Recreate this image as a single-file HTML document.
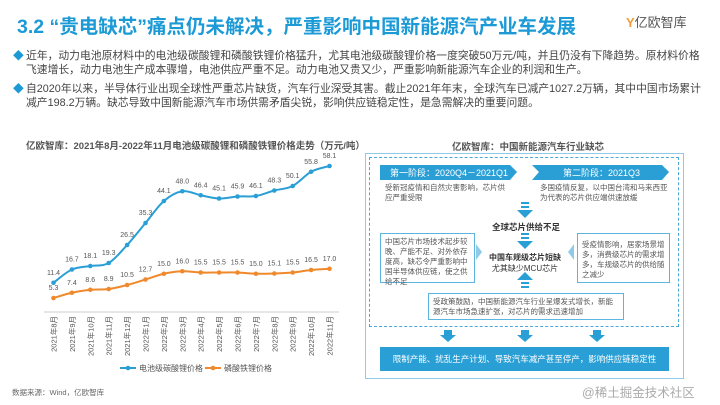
<!DOCTYPE html>
<html><head><meta charset="utf-8">
<style>
*{margin:0;padding:0;box-sizing:border-box}
body{width:720px;height:405px;overflow:hidden;background:#fff;font-family:"Liberation Sans","Noto Sans CJK SC",sans-serif;color:#444;position:relative}
.abs{position:absolute}
.bul{position:absolute;left:26px;width:677px;font-size:10.8px;line-height:13.5px;color:#444}
.bul span{position:absolute;left:-13px;top:0;color:#1b9ad6}
.box{position:absolute;border:1px solid #5bb5e0;background:#fff;color:#555;padding:3px 4px;font-size:7.5px;line-height:10px}
</style></head><body>
<div class="abs" style="left:17px;top:10px;font-size:19.5px;font-weight:bold;color:#1b9ad6;white-space:nowrap">3.2 “贵电缺芯”痛点仍未解决，严重影响中国新能源汽产业车发展</div>
<div class="abs" style="left:626px;top:12px;font-size:13px;color:#555;white-space:nowrap"><span style="color:#f39c33;font-weight:bold">Y</span>亿欧智库</div>
<div class="bul" style="top:50px"><span>◆</span>近年，动力电池原材料中的电池级碳酸锂和磷酸铁锂价格猛升，尤其电池级碳酸锂价格一度突破50万元/吨，并且仍没有下降趋势。原材料价格飞速增长，动力电池生产成本骤增，电池供应严重不足。动力电池又贵又少，严重影响新能源汽车企业的利润和生产。</div>
<div class="bul" style="top:83px"><span>◆</span>自2020年以来，半导体行业出现全球性严重芯片缺货，汽车行业深受其害。截止2021年年末，全球汽车已减产1027.2万辆，其中中国市场累计减产198.2万辆。缺芯导致中国新能源汽车市场供需矛盾尖锐，影响供应链稳定性，是急需解决的重要问题。</div>

<div class="abs" style="left:26px;top:138px;font-size:9.5px;font-weight:bold;color:#555;white-space:nowrap">亿欧智库：2021年8月-2022年11月电池级碳酸锂和磷酸铁锂价格走势（万元/吨）</div>
<svg class="abs" style="left:0;top:0" width="360" height="405" id="chart"></svg>
<div class="abs" style="left:12px;top:387px;font-size:7.5px;color:#666">数据来源：Wind，亿欧智库</div>

<div class="abs" style="left:452px;top:139px;font-size:9.5px;font-weight:bold;color:#555">亿欧智库：中国新能源汽车行业缺芯</div>
<div class="abs" style="left:365px;top:153px;width:319px;height:226px;border:1.5px solid #8fcbe8"></div>
<div class="abs" style="left:369px;top:157px;width:310px;height:170px;border:1px dashed #4aa8d8"></div>
<svg class="abs" style="left:360px;top:130px" width="360" height="275">
<polygon points="20,35 150,35 157,42 150,50 20,50" fill="#2a9fd6"/>
<polygon points="172,35 302,35 309,42 302,50 172,50 179,42" fill="#2a9fd6"/>
<g fill="#2a9fd6">
<rect x="161" y="72" width="8" height="2"/><rect x="161" y="76" width="8" height="2"/><polygon points="157,80 173,80 165,88"/>
<rect x="161" y="103" width="8" height="2"/><rect x="161" y="107" width="8" height="2"/><polygon points="157,111 173,111 165,119"/>
<polygon points="157,150 173,150 165,142"/><rect x="161" y="152" width="8" height="2"/><rect x="161" y="156" width="8" height="2"/>
<polygon points="116,114 122,122 116,130" fill="#8fcbe8"/><polygon points="214,114 208,122 214,130" fill="#8fcbe8"/>
<rect x="84" y="200" width="8" height="5"/><polygon points="80,205 96,205 88,212"/>
<rect x="161" y="200" width="8" height="5"/><polygon points="157,205 173,205 165,212"/>
<rect x="233" y="200" width="8" height="5"/><polygon points="229,205 245,205 237,212"/>
</g>
<rect x="20" y="217" width="289" height="24" fill="#2a9fd6"/>
</svg>
<div class="abs" style="left:390px;top:166px;font-size:9px;color:#fff">第一阶段：2020Q4－2021Q1</div>
<div class="abs" style="left:563px;top:166px;font-size:9px;color:#fff">第二阶段：2021Q3</div>
<div class="abs" style="left:385px;top:183px;width:125px;font-size:7.5px;line-height:10px;color:#555">受新冠疫情和自然灾害影响，芯片供应严重受限</div>
<div class="abs" style="left:540px;top:183px;width:132px;font-size:7.5px;line-height:10px;color:#555">多国疫情反复，以中国台湾和马来西亚为代表的芯片供应端供速放缓</div>
<div class="abs" style="left:492px;top:221px;font-size:8.5px;font-weight:bold;color:#333">全球芯片供给不足</div>
<div class="abs" style="left:483px;top:253px;width:84px;text-align:center;font-size:8px;line-height:10.5px;color:#333"><b>中国车规级芯片短缺</b><br>尤其缺少MCU芯片</div>
<div class="box" style="left:380px;top:233px;width:95px;height:50px">中国芯片市场技术起步较晚、产能不足、对外依存度高，缺芯令严重影响中国半导体供应链，使之供给不足</div>
<div class="box" style="left:577px;top:233px;width:93px;height:50px;padding-top:6px">受疫情影响，居家场景增多，消费级芯片的需求增多，车规级芯片的供给随之减少</div>
<div class="box" style="left:428px;top:293px;width:196px;height:27px">受政策鼓励，中国新能源汽车行业呈爆发式增长，新能源汽车市场急速扩张，对芯片的需求迅速增加</div>
<div class="abs" style="left:380px;top:353px;width:289px;text-align:center;font-size:8.5px;color:#fff">限制产能、扰乱生产计划、导致汽车减产甚至停产，影响供应链稳定性</div>
<div class="abs" style="left:582px;top:382px;font-size:12.5px;color:#aaa">@稀土掘金技术社区</div>

<script>
const categories=["2021年8月","2021年9月","2021年10月","2021年11月","2021年12月","2022年1月","2022年2月","2022年3月","2022年4月","2022年5月","2022年6月","2022年7月","2022年8月","2022年9月","2022年10月","2022年11月"];
const lithiumCarbonate=[11.4,16.7,18.1,19.3,26.5,35.3,44.1,48.0,46.4,45.1,45.9,46.1,48.3,50.1,55.8,58.1];
const lithiumIronPhosphate=[5.3,7.4,8.6,8.9,10.5,12.7,15.0,16.0,15.5,15.5,15.5,15.0,15.1,15.5,16.5,17.0];
const seriesNames=["电池级碳酸锂价格","磷酸铁锂价格"];
const svg=document.getElementById('chart');
const NS='http://www.w3.org/2000/svg';
const x0=53.5,x1=329.5,yBase=311.25,k=2.5;
const xs=i=>x0+i*(x1-x0)/(categories.length-1);
const ys=v=>yBase-v*k;
function mk(t,a){const e=document.createElementNS(NS,t);for(const n in a)e.setAttribute(n,a[n]);svg.appendChild(e);return e;}
const ax=mk('line',{x1:44,x2:339,y1:312,y2:312,stroke:'#ccc','stroke-width':1});


function smooth(vals){const p=vals.map((v,i)=>[xs(i),ys(v)]);let d='M'+p[0][0]+','+p[0][1];
for(let i=0;i<p.length-1;i++){const a=p[i-1]||p[i],b=p[i],c=p[i+1],e=p[i+2]||c;
d+=` C${b[0]+(c[0]-a[0])/6},${b[1]+(c[1]-a[1])/6} ${c[0]-(e[0]-b[0])/6},${c[1]-(e[1]-b[1])/6} ${c[0]},${c[1]}`;}return d;}
function series(vals,color,name,dy){
const l=mk('path',{d:smooth(vals),fill:'none',stroke:color,'stroke-width':2});


vals.forEach((v,i)=>{const c=mk('circle',{cx:xs(i),cy:ys(v),r:2.3,fill:color});


const t=mk('text',{x:xs(i),y:ys(v)+dy,'font-size':7,fill:'#555','text-anchor':'middle'});t.textContent=v.toFixed(1);

});}
series(lithiumCarbonate,'#2a9fd6','lithium-carbonate',-8);
series(lithiumIronPhosphate,'#f0892b','lithium-iron-phosphate',-8);
categories.forEach((c,i)=>{const t=mk('text',{transform:`translate(${xs(i)+3},316) rotate(-90)`,'font-size':7.5,fill:'#555','text-anchor':'end'});t.textContent=c;

});
[[seriesNames[0],'#2a9fd6',120],[seriesNames[1],'#f0892b',205]].forEach(([n,c,x])=>{
const l=mk('line',{x1:x,x2:x+16,y1:368,y2:368,stroke:c,'stroke-width':2});


const d=mk('circle',{cx:x+8,cy:368,r:2.3,fill:c});


const t=mk('text',{x:x+19,y:371,'font-size':8,fill:'#555'});t.textContent=n;

});
</script>
</body></html>
